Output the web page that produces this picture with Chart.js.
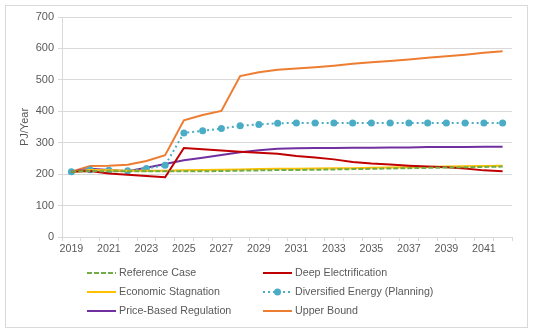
<!DOCTYPE html>
<html>
<head>
    <title>PJ/Year scenarios</title>
    <script src="https://cdn.jsdelivr.net/npm/chart.js@4.4.1/dist/chart.umd.min.js"></script>
    <style>
        body { margin: 0; background: #ffffff; }
        #wrap { position: relative; width: 533px; height: 330px; }
        #frame { position: absolute; left: 5px; top: 5px; width: 521px; height: 321px; border: 1px solid #d9d9d9; }
        #myChart { position: absolute; left: 0; top: 0; }
    </style>
</head>
<body>
    <div id="wrap">
        <div id="frame"></div>
        <canvas id="myChart" width="533" height="330"></canvas>
    </div>

    <script>
        const years = ['2019', '2020', '2021', '2022', '2023', '2024', '2025', '2026', '2027', '2028', '2029', '2030',
            '2031', '2032', '2033', '2034', '2035', '2036', '2037', '2038', '2039', '2040', '2041', '2042'];

        const referenceCase = [208, 210, 209, 209, 209, 209, 209, 209, 210, 211, 212, 213, 213, 214, 215, 216, 217, 218, 219, 220, 221, 222, 223, 224];
        const deepElectrification = [208, 210, 202, 198, 194, 190, 283, 279, 275, 271, 268, 265, 258, 253, 247, 239, 234, 231, 227, 224, 222, 218, 212, 209];
        const economicStagnation = [208, 213, 212, 211, 211, 211, 212, 213, 214, 215, 216, 217, 217, 218, 219, 219, 220, 221, 222, 223, 224, 225, 226, 227];
        const diversifiedEnergy = [208, 214, 212, 211, 218, 228, 331, 338, 345, 354, 358, 362, 363, 363, 363, 363, 363, 363, 363, 363, 363, 363, 363, 363];
        const priceBasedRegulation = [208, 217, 213, 209, 220, 232, 244, 252, 261, 270, 276, 281, 282, 283, 283, 284, 284, 285, 285, 286, 286, 286, 287, 287];
        const upperBound = [208, 226, 227, 230, 242, 260, 371, 388, 401, 512, 524, 532, 536, 540, 545, 551, 556, 560, 565, 570, 575, 580, 586, 591];

        const yTicks = [0, 100, 200, 300, 400, 500, 600, 700];

        const textColor = '#595959';
        const gridColor = '#d9d9d9';
        const fontFamily = '"Liberation Sans", Arial, sans-serif';

        // Excel-like legend: two fixed columns, three rows
        const legendGrid = {
            id: 'legendGrid',
            afterDraw(chart) {
                const ctx = chart.ctx;
                const colX = [87, 263];
                const rowY = [273, 292, 311];
                const lineLen = 29;
                ctx.save();
                ctx.font = '10.7px ' + fontFamily;
                ctx.textBaseline = 'middle';
                chart.data.datasets.forEach((ds, i) => {
                    const x = colX[i % 2];
                    const y = rowY[Math.floor(i / 2)];
                    ctx.strokeStyle = ds.borderColor;
                    ctx.lineWidth = ds.borderWidth;
                    ctx.setLineDash(ds.borderDash || []);
                    ctx.beginPath();
                    ctx.moveTo(x, y);
                    ctx.lineTo(x + lineLen, y);
                    ctx.stroke();
                    ctx.setLineDash([]);
                    if (ds.pointRadius > 0) {
                        ctx.fillStyle = ds.pointBackgroundColor;
                        ctx.beginPath();
                        ctx.arc(x + lineLen / 2, y, ds.pointRadius, 0, Math.PI * 2);
                        ctx.fill();
                    }
                    ctx.fillStyle = textColor;
                    ctx.fillText(ds.label, x + lineLen + 3, y);
                });
                ctx.restore();
            }
        };

        function lineSet(label, data, color, extra) {
            return Object.assign({
                label: label,
                data: data,
                borderColor: color,
                backgroundColor: color,
                borderWidth: 2,
                pointRadius: 0,
                pointHoverRadius: 0,
                fill: false,
                tension: 0
            }, extra || {});
        }

        const ctx = document.getElementById('myChart').getContext('2d');
        const chart = new Chart(ctx, {
            type: 'line',
            data: {
                labels: years,
                datasets: [
                    lineSet('Reference Case', referenceCase, '#70AD47', { borderDash: [5, 2] }),
                    lineSet('Deep Electrification', deepElectrification, '#C00000'),
                    lineSet('Economic Stagnation', economicStagnation, '#FFC000'),
                    lineSet('Diversified Energy (Planning)', diversifiedEnergy, '#4BACC6', {
                        borderDash: [2, 3],
                        pointRadius: 3.5,
                        pointStyle: 'circle',
                        pointBackgroundColor: '#4BACC6',
                        pointBorderColor: '#4BACC6',
                        pointBorderWidth: 0
                    }),
                    lineSet('Price-Based Regulation', priceBasedRegulation, '#7030A0'),
                    lineSet('Upper Bound', upperBound, '#ED7D31')
                ]
            },
            options: {
                responsive: false,
                animation: false,
                layout: { padding: { left: 14, top: 17, right: 21, bottom: 73 } },
                plugins: {
                    legend: { display: false },
                    tooltip: { enabled: false }
                },
                scales: {
                    x: {
                        offset: true,
                        afterFit: (scale) => { scale.height = 20; },
                        grid: { offset: true, drawOnChartArea: false, drawTicks: true, tickLength: 4, color: gridColor },
                        border: { color: gridColor },
                        ticks: {
                            autoSkip: false,
                            maxRotation: 0,
                            padding: 2,
                            color: textColor,
                            font: { family: fontFamily, size: 10.7 },
                            callback: function (val, index) {
                                return index % 2 === 0 ? this.getLabelForValue(val) : '';
                            }
                        }
                    },
                    y: {
                        min: yTicks[0],
                        max: yTicks[yTicks.length - 1],
                        afterFit: (scale) => { scale.width = 48; },
                        afterBuildTicks: (scale) => { scale.ticks = yTicks.map(v => ({ value: v })); },
                        grid: { color: gridColor, tickLength: 4 },
                        border: { color: gridColor },
                        ticks: {
                            padding: 4,
                            color: textColor,
                            font: { family: fontFamily, size: 11 }
                        },
                        title: {
                            display: true,
                            text: 'PJ/Year',
                            color: textColor,
                            font: { family: fontFamily, size: 11 },
                            padding: { top: 4, bottom: 0 }
                        }
                    }
                }
            },
            plugins: [legendGrid]
        });
    </script>
</body>
</html>
